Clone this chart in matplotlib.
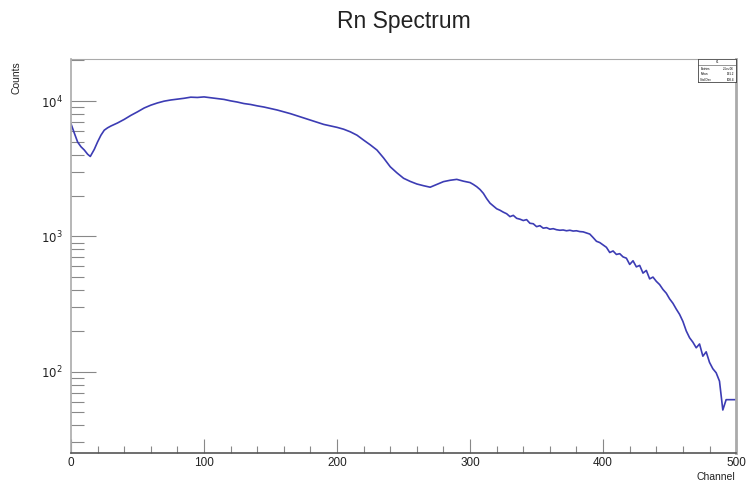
import numpy as np
import matplotlib.pyplot as plt
from matplotlib.ticker import LogLocator, MultipleLocator, FixedLocator, NullFormatter

plt.rcParams['font.family'] = ['Liberation Sans', 'DejaVu Sans']

# --- spectrum (channel, counts) ---
channels = [
    0, 2.5, 5, 7.5, 10, 12.5, 14.5, 17.5, 20, 22.5, 25, 27.5, 30,
    35, 40, 45, 50, 55, 60, 65, 70, 75, 80, 85, 90, 95,
    100, 105, 110, 115, 120, 125, 130, 135, 140, 145, 150, 155, 160, 165,
    170, 175, 180, 185, 190, 195, 200, 205, 210, 215, 220, 225, 230, 235,
    240, 245, 250, 255, 260, 265, 270, 275, 280, 285, 290, 295,
    300, 302.5, 305, 307.5, 310, 312.5, 315, 317.5, 320, 322.5, 325, 327.5,
    330, 332.5, 335, 337.5, 340, 342.5, 345, 347.5, 350, 352.5, 355, 357.5,
    360, 362.5, 365, 367.5, 370, 372.5, 375, 377.5, 380, 382.5, 385, 387.5,
    390, 392.5, 395, 397.5, 400, 402.5, 405, 407.5, 410, 412.5, 415, 417.5,
    420, 422.5, 425, 427.5, 430, 432.5, 435, 437.5, 440, 442.5, 445, 447.5,
    450, 452.5, 455, 457.5, 460, 462.5, 465, 467.5, 470, 472.5, 475, 477.5,
    480, 482.5, 485, 487.5, 490, 492.5, 495, 497.5, 500,
]
counts = [
    6800, 5800, 4980, 4600, 4350, 4050, 3900, 4400, 5000, 5600, 6100, 6350, 6550,
    6900, 7330, 7850, 8340, 8900, 9340, 9700, 10000, 10200, 10350, 10500, 10700, 10650,
    10750, 10600, 10460, 10300, 10050, 9850, 9600, 9450, 9230, 9050, 8830, 8600, 8340, 8080,
    7790, 7500, 7240, 6980, 6730, 6560, 6400, 6200, 5930, 5600, 5150, 4750, 4350, 3800,
    3270, 2950, 2690, 2550, 2440, 2370, 2310, 2420, 2540, 2600, 2640, 2560,
    2500, 2420, 2330, 2220, 2080, 1900, 1760, 1680, 1600, 1560, 1510, 1470,
    1400, 1430, 1360, 1340, 1310, 1330, 1250, 1240, 1180, 1200, 1150, 1160,
    1130, 1140, 1120, 1110, 1115, 1100, 1110, 1095, 1100, 1085, 1080, 1060,
    1040, 980, 920, 900, 865, 830, 760, 780, 735, 745, 705, 690,
    620, 660, 595, 610, 535, 560, 485, 500, 465, 440, 405, 380,
    345, 320, 290, 265, 235, 200, 178, 165, 150, 160, 130, 140,
    117, 105, 98, 85, 52, 62, 62, 62, 62,
]

hist_title = "Rn Spectrum"
x_label = "Channel"
y_label = "Counts"
stats_lines = [("Entries", "2.5e+06"), ("Mean", "191.2"), ("Std Dev", "108.4")]

fig = plt.figure(figsize=(7.49, 4.88), dpi=100)
ax = fig.add_axes([0.0948, 0.0717, 0.888, 0.8074])

ax.plot(channels, counts, color='#3c3cb4', linewidth=1.2)

ax.set_yscale('log')
ax.set_xlim(0, 500)
ax.set_ylim(25, 20500)

# ROOT-like ticks pointing inward
ax.xaxis.set_major_locator(MultipleLocator(100))
ax.xaxis.set_minor_locator(MultipleLocator(20))
ax.yaxis.set_major_locator(FixedLocator([1e2, 1e3, 1e4]))
ax.yaxis.set_minor_locator(LogLocator(base=10, subs=np.arange(2, 10)))
ax.yaxis.set_minor_formatter(NullFormatter())
ax.set_yticklabels([r'$10^{2}$', r'$10^{3}$', r'$10^{4}$'])

ax.tick_params(axis='x', which='major', direction='in', length=10, width=0.8,
               color='#888888', labelsize=8.5, pad=3, top=False, labelcolor='#222222')
ax.tick_params(axis='x', which='minor', direction='in', length=5, width=0.8,
               color='#888888', top=False)
ax.tick_params(axis='y', which='major', direction='in', length=18, width=0.8,
               color='#888888', labelsize=8.5, pad=6, right=False, labelcolor='#222222')
ax.tick_params(axis='y', which='minor', direction='in', length=9, width=0.8,
               color='#888888', right=False)

for side in ['top', 'right', 'left']:
    ax.spines[side].set_color('#aaaaaa')
ax.spines['right'].set_linewidth(2.0)
ax.spines['left'].set_linewidth(1.2)
ax.spines['bottom'].set_color('#555555')
ax.spines['bottom'].set_linewidth(1.2)

fig.text(0.539, 0.955, hist_title, ha='center', va='center', fontsize=16.5, color='#222222')
fig.text(0.982, 0.012, x_label, ha='right', va='bottom', fontsize=7.5, color='#222222')
fig.text(0.022, 0.875, y_label, ha='center', va='top', rotation=90, fontsize=7.5, color='#222222')

# small stats box in the top right corner
box = ax.inset_axes([0.9428, 0.942, 0.0572, 0.058])
box.set_xticks([])
box.set_yticks([])
box.set_xlim(0, 1)
box.set_ylim(0, 1)
for s in box.spines.values():
    s.set_linewidth(0.6)
    s.set_color('#444444')
box.text(0.5, 0.87, "h1", ha='center', va='center', fontsize=2.2)
box.axhline(0.75, color='#444444', linewidth=0.4)
for i, (name, val) in enumerate(stats_lines):
    yy = 0.58 - i * 0.24
    box.text(0.06, yy, name, ha='left', va='center', fontsize=2.2)
    box.text(0.94, yy, val, ha='right', va='center', fontsize=2.2)

fig.savefig('out.png', dpi=100)
